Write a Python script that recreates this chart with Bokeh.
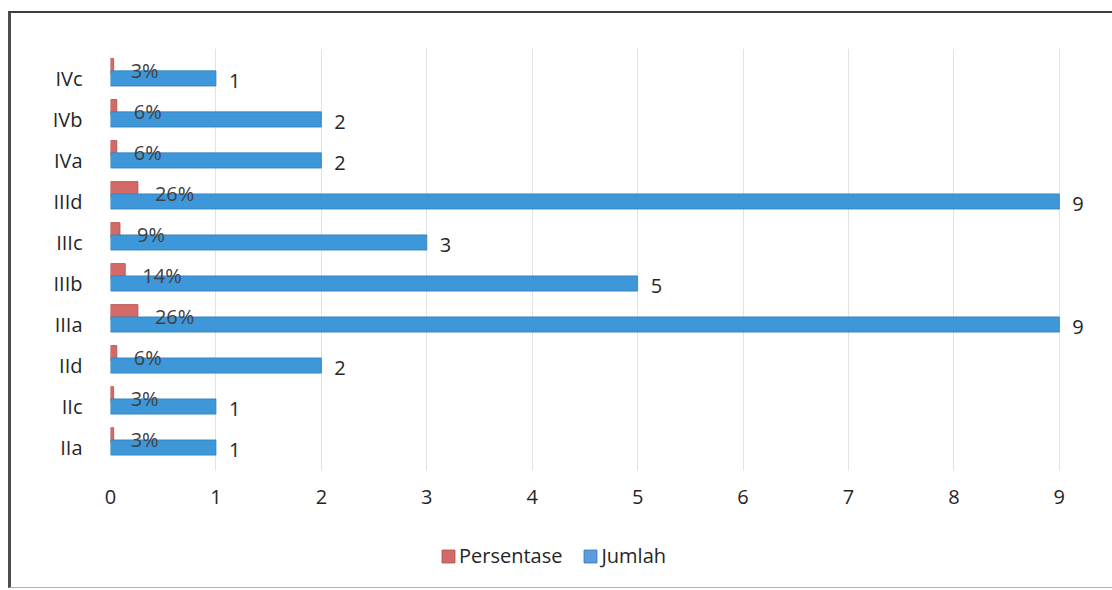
from bokeh.plotting import figure
from bokeh.layouts import column
from bokeh.models import ColumnDataSource, FixedTicker, Legend, LegendItem, Range1d
from bokeh.transform import dodge
from bokeh.core.properties import value
from bokeh.embed import file_html
from bokeh.resources import INLINE

categories = ["IIa", "IIc", "IId", "IIIa", "IIIb", "IIIc", "IIId", "IVa", "IVb", "IVc"]
jumlah = [1, 1, 2, 9, 5, 3, 9, 2, 2, 1]
persentase = [0.03, 0.03, 0.06, 0.26, 0.14, 0.09, 0.26, 0.06, 0.06, 0.03]
persen_labels = ["3%", "3%", "6%", "26%", "14%", "9%", "26%", "6%", "6%", "3%"]
x_ticks = [0, 1, 2, 3, 4, 5, 6, 7, 8, 9]
series_names = ["Persentase", "Jumlah"]

ypos = list(range(len(categories)))
src = ColumnDataSource(dict(
    y=ypos, jumlah=jumlah, persen=persentase, plab=persen_labels,
    jlab=[str(v) for v in jumlah],
))

FONT = "Open Sans"
RED = "#D46A68"
RED_LINE = "#B04E4C"
BLUE = "#3E97D9"
BLUE_LINE = "#2E7DB8"
TXT = "#262626"

p = figure(width=1101, height=511, output_backend="svg", toolbar_location=None,
           x_range=Range1d(0, 9.4), y_range=Range1d(-0.56, 9.73),
           min_border_left=99, min_border_right=11, min_border_top=35, min_border_bottom=54)
p.outline_line_color = None
p.background_fill_color = "white"
p.border_fill_color = "white"

p.hbar(y=dodge("y", 0.30), left=0, right="persen", height=0.37, source=src,
       fill_color=RED, line_color=RED_LINE, line_width=0.8)
p.hbar(y=dodge("y", 0.0), left=0, right="jumlah", height=0.37, source=src,
       fill_color=BLUE, line_color=BLUE_LINE, line_width=0.8)

p.text(x="persen", y=dodge("y", 0.20), text="plab", source=src, x_offset=17,
       text_baseline="middle", text_align="left", text_font=value(FONT),
       text_font_size="20px", text_color="#404040")
p.text(x="jumlah", y=dodge("y", -0.06), text="jlab", source=src, x_offset=13,
       text_baseline="middle", text_align="left", text_font=value(FONT),
       text_font_size="20px", text_color=TXT)

p.xaxis.ticker = FixedTicker(ticks=x_ticks)
p.xaxis.axis_line_color = None
p.xaxis.major_tick_line_color = None
p.xaxis.minor_tick_line_color = None
p.xaxis.major_label_text_font = FONT
p.xaxis.major_label_text_font_size = "20px"
p.xaxis.major_label_text_color = TXT
p.xaxis.major_label_standoff = 13

p.yaxis.ticker = FixedTicker(ticks=ypos)
p.yaxis.major_label_overrides = {i: c for i, c in enumerate(categories)}
p.yaxis.axis_line_color = None
p.yaxis.major_tick_line_color = None
p.yaxis.minor_tick_line_color = None
p.yaxis.major_label_text_font = FONT
p.yaxis.major_label_text_font_size = "20px"
p.yaxis.major_label_text_color = TXT
p.yaxis.major_label_standoff = 22

p.xgrid.ticker = FixedTicker(ticks=x_ticks)
p.xgrid.grid_line_color = "#E2E2E2"
p.ygrid.grid_line_color = None

# legend strip below the chart
lg = figure(width=1101, height=63, output_backend="svg", toolbar_location=None,
            x_range=Range1d(0, 1), y_range=Range1d(0, 1),
            min_border=0)
lg.outline_line_color = None
lg.axis.visible = False
lg.grid.visible = False
offscreen = ColumnDataSource(dict(x=[-5], y=[-5]))
r_red = lg.rect(x="x", y="y", width=0.1, height=0.1, source=offscreen,
                fill_color=RED, line_color=RED_LINE)
r_blue = lg.rect(x="x", y="y", width=0.1, height=0.1, source=offscreen,
                 fill_color="#5B9BE0", line_color=BLUE_LINE)
legend = Legend(items=[LegendItem(label=series_names[0], renderers=[r_red]),
                       LegendItem(label=series_names[1], renderers=[r_blue])],
                orientation="horizontal", location=(330, 18),
                label_text_font=FONT, label_text_font_size="20px", label_text_color=TXT,
                glyph_width=16, glyph_height=16, spacing=20, label_standoff=3,
                border_line_color=None, background_fill_alpha=0)
lg.add_layout(legend)

layout = column(p, lg, margin=(11, 0, 0, 8), spacing=0,
                styles={"border-left": "3px solid #4d4d4d",
                        "border-top": "2px solid #3d3d3d",
                        "border-bottom": "1px solid #b0b0b0",
                        "background-color": "white"})

open("out.html", "w").write(file_html(layout, INLINE))
